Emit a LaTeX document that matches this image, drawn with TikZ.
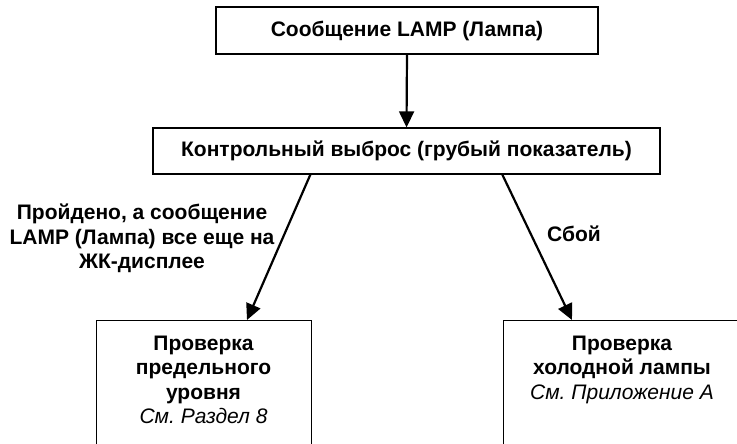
\documentclass[tikz,border=0pt]{standalone}
\usepackage{fontspec}
\setmainfont{Liberation Sans}
\usetikzlibrary{arrows.meta,calc}
\newcommand\myref{\mdseries\itshape}
\frenchspacing
\begin{document}
\begin{tikzpicture}[x=1pt,y=-1pt,
  box/.style={draw=black, line width=1.3pt, inner sep=0pt},
  txt/.style={font=\fontsize{21}{24.3}\selectfont\bfseries, align=center, inner sep=0pt},
  arr/.style={line width=2.2pt, -{Triangle[length=16pt,width=15pt]}}]
\useasboundingbox (0,0) rectangle (737,444);
\clip (0,0) rectangle (737,444);
% boxes
\node[box, txt, minimum width=382pt, minimum height=47pt] (top) at (407,30.5) {Сообщение LAMP (Лампа)};
\node[box, txt, minimum width=507pt, minimum height=46pt] (mid) at (406.5,151) {Контрольный выброс (грубый показатель)};
\node[box, minimum width=215pt, minimum height=200pt, anchor=north west] (b1) at (96,320) {};
\node[box, minimum width=238pt, minimum height=200pt, anchor=north west] (b2) at (503,320) {};
% box texts
\node[txt, anchor=north] (b1t) at (203.5,336) {Проверка\\предельного\\уровня\\{\myref См. Раздел 8}};
\node[txt, anchor=north] (b2t) at (622,336) {Проверка\\холодной лампы\\{\myref См. Приложение А}};
% labels
\node[txt, anchor=north] (l1) at (142,204) {Пройдено, а сообщение\\LAMP (Лампа) все еще на\\ЖК-дисплее};
\node[txt, anchor=north] (l2) at (574,226) {Сбой};
% connectors
\draw[arr] (top.south) -- (mid.north);
\draw[arr] ([xshift=158pt]mid.south west) -- ([xshift=151pt]b1.north west);
\draw[arr] ([xshift=350pt]mid.south west) -- ([xshift=69pt]b2.north west);
\end{tikzpicture}
\end{document}
